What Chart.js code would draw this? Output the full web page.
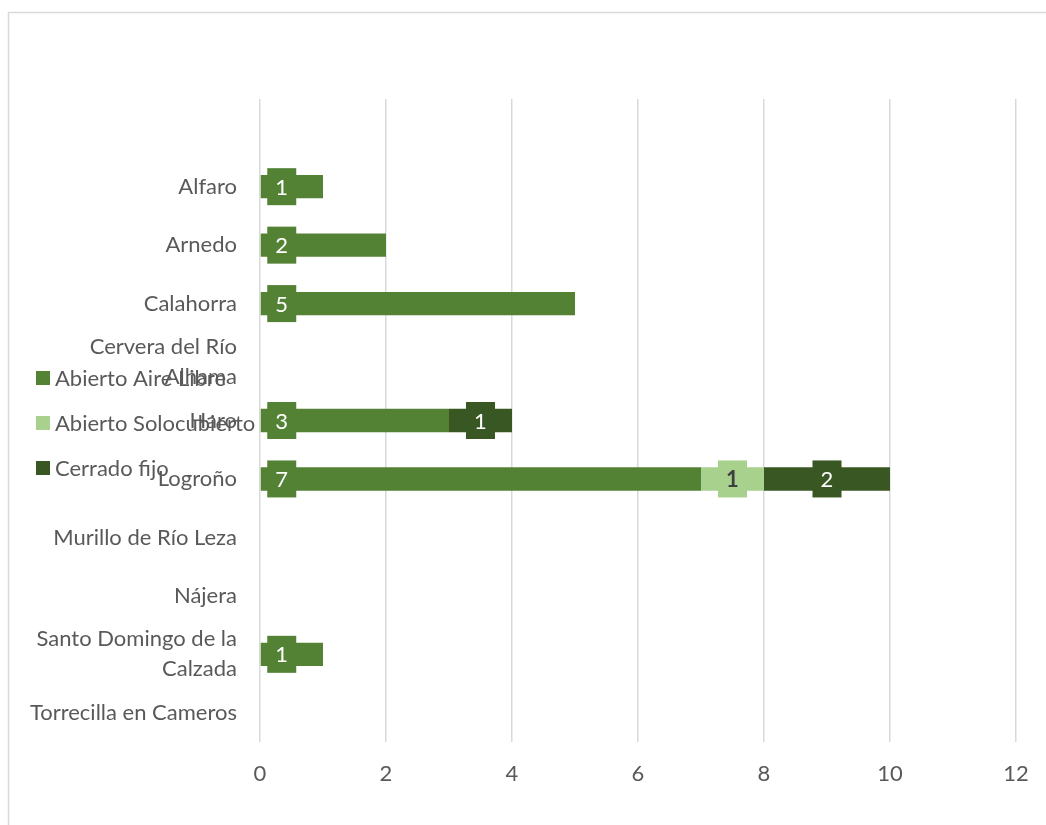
<!DOCTYPE html>
<html>
<head>
<meta charset="utf-8">
<script src="https://cdn.jsdelivr.net/npm/chart.js@4/dist/chart.umd.min.js"></script>
<style>
html, body { margin: 0; padding: 0; background: #fff; overflow: hidden; }
#wrap { position: relative; width: 1046px; height: 825px; }
</style>
</head>
<body>
<div id="wrap"><canvas id="chart" width="1046" height="825"></canvas></div>
<script>
// first row is blank in the source sheet, that's why there's empty space on top
const towns = ['', 'Alfaro', 'Arnedo', 'Calahorra', ['Cervera del Río', 'Alhama'], 'Haro', 'Logroño',
    'Murillo de Río Leza', 'Nájera', ['Santo Domingo de la', 'Calzada'], 'Torrecilla en Cameros'];
const aireLibre    = [null, 1, 2, 5, null, 3, 7, null, null, 1, null];
const soloCubierto = [null, null, null, null, null, null, 1, null, null, null, null];
const cerradoFijo  = [null, null, null, null, null, 1, 2, null, null, null, null];
const seriesNames = ['Abierto Aire Libre', 'Abierto Solocubierto', 'Cerrado fijo'];
const xMax = 12;

const textColor = '#595959';
const fontFamily = 'Lato, "Open Sans", sans-serif';
const fontSize = 22;

// outer frame of the chart object
const framePlugin = {
    id: 'frame',
    beforeDraw(chart) {
        const ctx = chart.ctx;
        ctx.save();
        ctx.strokeStyle = '#d9d9d9';
        ctx.lineWidth = 1.5;
        ctx.strokeRect(8.5, 12.5, chart.width + 20, chart.height + 20);
        ctx.restore();
    }
};

// value boxes like excel's data labels
const labelPlugin = {
    id: 'boxLabels',
    afterDatasetsDraw(chart) {
        const ctx = chart.ctx;
        ctx.save();
        ctx.textAlign = 'center';
        ctx.textBaseline = 'middle';
        chart.data.datasets.forEach((ds, i) => {
            const meta = chart.getDatasetMeta(i);
            meta.data.forEach((bar, j) => {
                const v = ds.data[j];
                if (!v) return;
                let cx;
                if (i === 0) {
                    cx = bar.base + 21;
                } else {
                    cx = (bar.x + bar.base) / 2;
                }
                const cy = bar.y;
                ctx.fillStyle = ds.backgroundColor;
                ctx.fillRect(cx - 14.5, cy - 18.5, 29, 37);
                ctx.fillStyle = i === 1 ? '#404040' : '#ffffff';
                ctx.font = (i === 1 ? 'bold ' : '') + fontSize + 'px ' + fontFamily;
                ctx.fillText(String(v), cx, cy + 1);
            });
        });
        ctx.restore();
    }
};

// legend sits on top of the category labels in the original
const legendPlugin = {
    id: 'overLegend',
    afterDraw(chart) {
        const ctx = chart.ctx;
        ctx.save();
        ctx.font = fontSize + 'px ' + fontFamily;
        ctx.textBaseline = 'middle';
        ctx.textAlign = 'left';
        chart.data.datasets.forEach((ds, i) => {
            const y = 378 + i * 45;
            ctx.fillStyle = ds.backgroundColor;
            ctx.fillRect(36, y - 7, 14, 14);
            ctx.fillStyle = textColor;
            ctx.fillText(ds.label, 55, y + 1);
        });
        ctx.restore();
    }
};

const ctx = document.getElementById('chart').getContext('2d');
const myChart = new Chart(ctx, {
    type: 'bar',
    data: {
        labels: towns,
        datasets: [{
            label: seriesNames[0],
            data: aireLibre,
            backgroundColor: '#548235'
        }, {
            label: seriesNames[1],
            data: soloCubierto,
            backgroundColor: '#a9d18e'
        }, {
            label: seriesNames[2],
            data: cerradoFijo,
            backgroundColor: '#385723'
        }]
    },
    options: {
        indexAxis: 'y',
        responsive: false,
        animation: false,
        layout: { padding: { left: 0, top: 99, right: 30, bottom: 0 } },
        datasets: {
            bar: { categoryPercentage: 1, barPercentage: 0.4 }
        },
        plugins: {
            legend: { display: false },
            tooltip: { enabled: false }
        },
        scales: {
            x: {
                stacked: true,
                min: 0,
                max: xMax,
                border: { display: false },
                grid: { color: '#d9d9d9', lineWidth: 1.5, drawTicks: false },
                ticks: {
                    stepSize: 2,
                    padding: 19,
                    color: textColor,
                    font: { family: fontFamily, size: fontSize }
                },
                afterFit(scale) {
                    scale.height = 83;
                    scale.paddingLeft = 0;
                    scale.paddingRight = 0;
                }
            },
            y: {
                stacked: true,
                border: { display: false },
                grid: { display: false, drawTicks: false },
                ticks: {
                    padding: 23,
                    autoSkip: false,
                    color: textColor,
                    font: { family: fontFamily, size: fontSize, lineHeight: 1.36 }
                },
                afterFit(scale) { scale.width = 260; }
            }
        }
    },
    plugins: [framePlugin, labelPlugin, legendPlugin]
});
</script>
</body>
</html>
